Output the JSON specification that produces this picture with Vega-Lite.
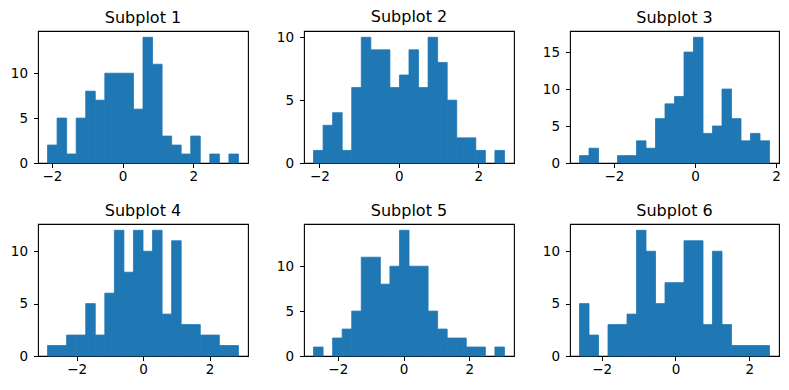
{
  "$schema": "https://vega.github.io/schema/vega-lite/v6.json",
  "background": "white",
  "padding": {"left": 9, "top": 8, "right": 5, "bottom": 5},
  "bounds": "flush",
  "columns": 3,
  "spacing": {"row": 61, "column": 56},
  "config": {
    "view": {"stroke": "black", "strokeWidth": 1.1, "fill": null},
    "axis": {"domain": false, "grid": false, "tickColor": "black", "tickSize": 4.5, "tickWidth": 1, "labelColor": "black", "labelFont": "DejaVu Sans", "labelFontSize": 13.5, "title": null},
    "axisX": {"labelPadding": 2},
    "axisY": {"labelPadding": 6},
    "title": {"font": "DejaVu Sans", "fontSize": 16, "fontWeight": "normal", "color": "black", "offset": 5, "anchor": "middle", "frame": "group"},
    "bar": {"color": "#1f77b4", "stroke": "#1f77b4", "strokeWidth": 0.8}
  },
  "datasets": {
    "s1": [
      {"a": -2.122, "b": -1.852, "n": 2}, {"a": -1.852, "b": -1.582, "n": 5}, {"a": -1.582, "b": -1.312, "n": 1}, {"a": -1.312, "b": -1.042, "n": 5},
      {"a": -1.042, "b": -0.772, "n": 8}, {"a": -0.772, "b": -0.502, "n": 7}, {"a": -0.502, "b": -0.232, "n": 10}, {"a": -0.232, "b": 0.038, "n": 10},
      {"a": 0.038, "b": 0.308, "n": 10}, {"a": 0.308, "b": 0.578, "n": 6}, {"a": 0.578, "b": 0.848, "n": 14}, {"a": 0.848, "b": 1.118, "n": 11},
      {"a": 1.118, "b": 1.388, "n": 3}, {"a": 1.388, "b": 1.658, "n": 2}, {"a": 1.658, "b": 1.928, "n": 1}, {"a": 1.928, "b": 2.198, "n": 3},
      {"a": 2.198, "b": 2.468, "n": 0}, {"a": 2.468, "b": 2.738, "n": 1}, {"a": 2.738, "b": 3.008, "n": 0}, {"a": 3.008, "b": 3.278, "n": 1}
    ],
    "s2": [
      {"a": -2.15, "b": -1.9095, "n": 1}, {"a": -1.9095, "b": -1.669, "n": 3}, {"a": -1.669, "b": -1.4285, "n": 4}, {"a": -1.4285, "b": -1.188, "n": 1},
      {"a": -1.188, "b": -0.9475, "n": 6}, {"a": -0.9475, "b": -0.707, "n": 10}, {"a": -0.707, "b": -0.4665, "n": 9}, {"a": -0.4665, "b": -0.226, "n": 9},
      {"a": -0.226, "b": 0.0145, "n": 6}, {"a": 0.0145, "b": 0.255, "n": 7}, {"a": 0.255, "b": 0.4955, "n": 9}, {"a": 0.4955, "b": 0.736, "n": 6},
      {"a": 0.736, "b": 0.9765, "n": 10}, {"a": 0.9765, "b": 1.217, "n": 8}, {"a": 1.217, "b": 1.4575, "n": 5}, {"a": 1.4575, "b": 1.698, "n": 2},
      {"a": 1.698, "b": 1.9385, "n": 2}, {"a": 1.9385, "b": 2.179, "n": 1}, {"a": 2.179, "b": 2.4195, "n": 0}, {"a": 2.4195, "b": 2.66, "n": 1}
    ],
    "s3": [
      {"a": -2.85, "b": -2.6155, "n": 1}, {"a": -2.6155, "b": -2.381, "n": 2}, {"a": -2.381, "b": -2.1465, "n": 0}, {"a": -2.1465, "b": -1.912, "n": 0},
      {"a": -1.912, "b": -1.6775, "n": 1}, {"a": -1.6775, "b": -1.443, "n": 1}, {"a": -1.443, "b": -1.2085, "n": 3}, {"a": -1.2085, "b": -0.974, "n": 2},
      {"a": -0.974, "b": -0.7395, "n": 6}, {"a": -0.7395, "b": -0.505, "n": 8}, {"a": -0.505, "b": -0.2705, "n": 9}, {"a": -0.2705, "b": -0.036, "n": 15},
      {"a": -0.036, "b": 0.1985, "n": 17}, {"a": 0.1985, "b": 0.433, "n": 4}, {"a": 0.433, "b": 0.6675, "n": 5}, {"a": 0.6675, "b": 0.902, "n": 10},
      {"a": 0.902, "b": 1.1365, "n": 6}, {"a": 1.1365, "b": 1.371, "n": 3}, {"a": 1.371, "b": 1.6055, "n": 4}, {"a": 1.6055, "b": 1.84, "n": 3}
    ],
    "s4": [
      {"a": -2.88, "b": -2.5925, "n": 1}, {"a": -2.5925, "b": -2.305, "n": 1}, {"a": -2.305, "b": -2.0175, "n": 2}, {"a": -2.0175, "b": -1.73, "n": 2},
      {"a": -1.73, "b": -1.4425, "n": 5}, {"a": -1.4425, "b": -1.155, "n": 2}, {"a": -1.155, "b": -0.8675, "n": 6}, {"a": -0.8675, "b": -0.58, "n": 12},
      {"a": -0.58, "b": -0.2925, "n": 8}, {"a": -0.2925, "b": -0.005, "n": 12}, {"a": -0.005, "b": 0.2825, "n": 10}, {"a": 0.2825, "b": 0.57, "n": 12},
      {"a": 0.57, "b": 0.8575, "n": 4}, {"a": 0.8575, "b": 1.145, "n": 11}, {"a": 1.145, "b": 1.4325, "n": 3}, {"a": 1.4325, "b": 1.72, "n": 3},
      {"a": 1.72, "b": 2.0075, "n": 2}, {"a": 2.0075, "b": 2.295, "n": 2}, {"a": 2.295, "b": 2.5825, "n": 1}, {"a": 2.5825, "b": 2.87, "n": 1}
    ],
    "s5": [
      {"a": -2.737, "b": -2.4466, "n": 1}, {"a": -2.4466, "b": -2.1562, "n": 0}, {"a": -2.1562, "b": -1.8658, "n": 2}, {"a": -1.8658, "b": -1.5754, "n": 3},
      {"a": -1.5754, "b": -1.285, "n": 5}, {"a": -1.285, "b": -0.9946, "n": 11}, {"a": -0.9946, "b": -0.7042, "n": 11}, {"a": -0.7042, "b": -0.4138, "n": 8},
      {"a": -0.4138, "b": -0.1234, "n": 10}, {"a": -0.1234, "b": 0.167, "n": 14}, {"a": 0.167, "b": 0.4574, "n": 10}, {"a": 0.4574, "b": 0.7478, "n": 10},
      {"a": 0.7478, "b": 1.0382, "n": 5}, {"a": 1.0382, "b": 1.3286, "n": 3}, {"a": 1.3286, "b": 1.619, "n": 2}, {"a": 1.619, "b": 1.9094, "n": 2},
      {"a": 1.9094, "b": 2.1998, "n": 1}, {"a": 2.1998, "b": 2.4902, "n": 1}, {"a": 2.4902, "b": 2.7806, "n": 0}, {"a": 2.7806, "b": 3.071, "n": 1}
    ],
    "s6": [
      {"a": -2.601, "b": -2.3436, "n": 5}, {"a": -2.3436, "b": -2.0862, "n": 2}, {"a": -2.0862, "b": -1.8288, "n": 0}, {"a": -1.8288, "b": -1.5714, "n": 3},
      {"a": -1.5714, "b": -1.314, "n": 3}, {"a": -1.314, "b": -1.0566, "n": 4}, {"a": -1.0566, "b": -0.7992, "n": 12}, {"a": -0.7992, "b": -0.5418, "n": 10},
      {"a": -0.5418, "b": -0.2844, "n": 5}, {"a": -0.2844, "b": -0.027, "n": 7}, {"a": -0.027, "b": 0.2304, "n": 7}, {"a": 0.2304, "b": 0.4878, "n": 11},
      {"a": 0.4878, "b": 0.7452, "n": 11}, {"a": 0.7452, "b": 1.0026, "n": 3}, {"a": 1.0026, "b": 1.26, "n": 10}, {"a": 1.26, "b": 1.5174, "n": 3},
      {"a": 1.5174, "b": 1.7748, "n": 1}, {"a": 1.7748, "b": 2.0322, "n": 1}, {"a": 2.0322, "b": 2.2896, "n": 1}, {"a": 2.2896, "b": 2.547, "n": 1}
    ]
  },
  "concat": [
    {"title": "Subplot 1", "width": 210, "height": 132, "data": {"name": "s1"}, "transform": [{"filter": "datum.n > 0"}], "mark": "bar",
     "encoding": {"x": {"field": "a", "type": "quantitative", "scale": {"domain": [-2.392, 3.548], "nice": false, "zero": false}, "axis": {"values": [-2, 0, 2]}},
                  "x2": {"field": "b"},
                  "y": {"field": "n", "type": "quantitative", "scale": {"domain": [0, 14.7], "nice": false}, "axis": {"values": [0, 5, 10]}},
                  "y2": {"datum": 0}}},
    {"title": "Subplot 2", "width": 210, "height": 132, "data": {"name": "s2"}, "transform": [{"filter": "datum.n > 0"}], "mark": "bar",
     "encoding": {"x": {"field": "a", "type": "quantitative", "scale": {"domain": [-2.3905, 2.9005], "nice": false, "zero": false}, "axis": {"values": [-2, 0, 2]}},
                  "x2": {"field": "b"},
                  "y": {"field": "n", "type": "quantitative", "scale": {"domain": [0, 10.5], "nice": false}, "axis": {"values": [0, 5, 10]}},
                  "y2": {"datum": 0}}},
    {"title": "Subplot 3", "width": 209, "height": 132, "data": {"name": "s3"}, "transform": [{"filter": "datum.n > 0"}], "mark": "bar",
     "encoding": {"x": {"field": "a", "type": "quantitative", "scale": {"domain": [-3.0845, 2.0745], "nice": false, "zero": false}, "axis": {"values": [-2, 0, 2]}},
                  "x2": {"field": "b"},
                  "y": {"field": "n", "type": "quantitative", "scale": {"domain": [0, 17.85], "nice": false}, "axis": {"values": [0, 5, 10, 15]}},
                  "y2": {"datum": 0}}},
    {"title": "Subplot 4", "width": 210, "height": 132, "data": {"name": "s4"}, "transform": [{"filter": "datum.n > 0"}], "mark": "bar",
     "encoding": {"x": {"field": "a", "type": "quantitative", "scale": {"domain": [-3.1675, 3.1575], "nice": false, "zero": false}, "axis": {"values": [-2, 0, 2]}},
                  "x2": {"field": "b"},
                  "y": {"field": "n", "type": "quantitative", "scale": {"domain": [0, 12.6], "nice": false}, "axis": {"values": [0, 5, 10]}},
                  "y2": {"datum": 0}}},
    {"title": "Subplot 5", "width": 210, "height": 132, "data": {"name": "s5"}, "transform": [{"filter": "datum.n > 0"}], "mark": "bar",
     "encoding": {"x": {"field": "a", "type": "quantitative", "scale": {"domain": [-3.0274, 3.3614], "nice": false, "zero": false}, "axis": {"values": [-2, 0, 2]}},
                  "x2": {"field": "b"},
                  "y": {"field": "n", "type": "quantitative", "scale": {"domain": [0, 14.7], "nice": false}, "axis": {"values": [0, 5, 10]}},
                  "y2": {"datum": 0}}},
    {"title": "Subplot 6", "width": 209, "height": 132, "data": {"name": "s6"}, "transform": [{"filter": "datum.n > 0"}], "mark": "bar",
     "encoding": {"x": {"field": "a", "type": "quantitative", "scale": {"domain": [-2.8584, 2.8044], "nice": false, "zero": false}, "axis": {"values": [-2, 0, 2]}},
                  "x2": {"field": "b"},
                  "y": {"field": "n", "type": "quantitative", "scale": {"domain": [0, 12.6], "nice": false}, "axis": {"values": [0, 5, 10]}},
                  "y2": {"datum": 0}}}
  ]
}
